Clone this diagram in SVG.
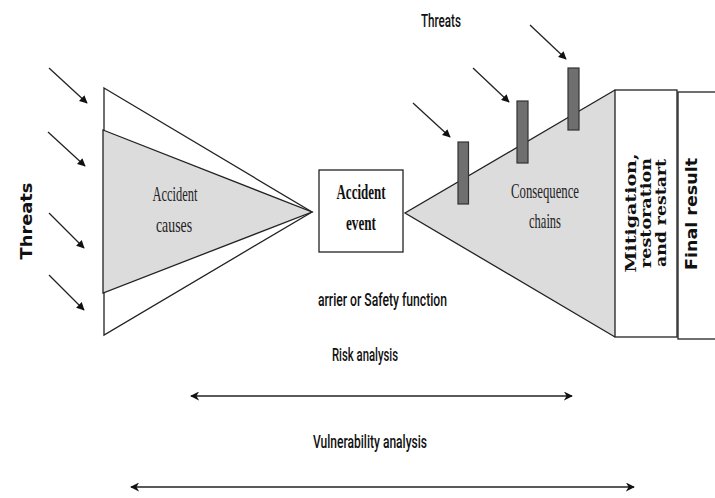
<svg xmlns="http://www.w3.org/2000/svg" width="715" height="498" viewBox="0 0 715 498">
<defs>
<style>
.ln{stroke:#222;stroke-width:1.3;fill:none}
.shape{stroke:#222;stroke-width:1.3}
.gray{fill:#dcdcdc}
.white{fill:#fff}
.bar{fill:#6f6f6f;stroke:#333;stroke-width:1.2}
.cond{font-family:Roboto,"Liberation Sans",sans-serif;font-size:18px;font-weight:500;fill:#111}
.ser{font-family:"Liberation Serif","DejaVu Serif",serif;font-size:21px;fill:#222;text-anchor:middle}
.serb{font-family:"Liberation Serif","DejaVu Serif",serif;font-size:22px;font-weight:bold;fill:#111;text-anchor:middle}
.vb{font-family:"DejaVu Serif",serif;font-size:14px;font-weight:bold;fill:#111;text-anchor:middle}
.vs{font-family:"DejaVu Sans",sans-serif;font-size:15px;font-weight:bold;fill:#111;text-anchor:middle}
</style>
<marker id="ah" viewBox="0 0 10 10" refX="9" refY="5" markerWidth="8" markerHeight="8" markerUnits="userSpaceOnUse" orient="auto">
<path d="M0,0 L10,5 L0,10 z" fill="#111"/>
</marker>
<marker id="dh" viewBox="0 0 10 10" refX="9" refY="5" markerWidth="9" markerHeight="9" markerUnits="userSpaceOnUse" orient="auto-start-reverse">
<path d="M0,0 L10,5 L0,10 L3,5 z" fill="#111"/>
</marker>
</defs>
<rect width="715" height="498" fill="#fff"/>

<g id="accident-causes">
<polygon class="shape white" points="104,88 312,212 104,335"/>
<polygon class="shape gray" points="103,130 312,212 103,293"/>
<text class="ser" x="175" y="201" textLength="45" lengthAdjust="spacingAndGlyphs">Accident</text>
<text class="ser" x="174" y="232" textLength="36" lengthAdjust="spacingAndGlyphs">causes</text>
</g>

<g id="accident-event">
<rect class="shape white" x="319" y="170" width="84" height="82"/>
<text class="serb" x="361" y="199" textLength="49" lengthAdjust="spacingAndGlyphs">Accident</text>
<text class="serb" x="361" y="230" textLength="30" lengthAdjust="spacingAndGlyphs">event</text>
</g>

<g id="consequence-chains">
<polygon class="gray" points="405,213 615,90 615,337"/>
<polyline class="ln" points="615,90 405,213 615,337"/>
<text class="ser" x="545" y="198" textLength="68" lengthAdjust="spacingAndGlyphs">Consequence</text>
<text class="ser" x="545" y="228" textLength="32" lengthAdjust="spacingAndGlyphs">chains</text>
</g>

<g id="barriers">
<rect class="bar" x="458" y="142" width="10.5" height="62"/>
<rect class="bar" x="517" y="101" width="11" height="62"/>
<rect class="bar" x="568" y="68" width="11" height="62"/>
</g>

<g id="mitigation">
<rect class="shape white" x="615" y="90" width="62" height="247"/>
<g transform="translate(651,213) rotate(-90)">
<text class="vb" x="0" y="-15" textLength="119" lengthAdjust="spacingAndGlyphs">Mitigation,</text>
<text class="vb" x="0" y="0" textLength="110" lengthAdjust="spacingAndGlyphs">restoration</text>
<text class="vb" x="0" y="15" textLength="108" lengthAdjust="spacingAndGlyphs">and restart</text>
</g>
</g>

<g id="final-result">
<rect class="shape white" x="678" y="92" width="40" height="247"/>
<text class="vs" transform="translate(697,214) rotate(-90)" x="0" y="0" textLength="112" lengthAdjust="spacingAndGlyphs">Final result</text>
</g>

<g id="connectors">
<line class="ln" x1="49" y1="68" x2="87" y2="103" marker-end="url(#ah)"/>
<line class="ln" x1="48" y1="132" x2="85" y2="166" marker-end="url(#ah)"/>
<line class="ln" x1="49" y1="213" x2="84" y2="248" marker-end="url(#ah)"/>
<line class="ln" x1="49" y1="275" x2="84" y2="310" marker-end="url(#ah)"/>
<line class="ln" x1="413" y1="103" x2="450" y2="137" marker-end="url(#ah)"/>
<line class="ln" x1="473" y1="68" x2="509" y2="102" marker-end="url(#ah)"/>
<line class="ln" x1="530" y1="25" x2="566" y2="59" marker-end="url(#ah)"/>
<line class="ln" x1="191" y1="396" x2="572" y2="396" marker-start="url(#dh)" marker-end="url(#dh)"/>
<line class="ln" x1="131" y1="487" x2="634" y2="487" marker-start="url(#dh)" marker-end="url(#dh)"/>
</g>

<g id="labels">
<text class="vs" transform="translate(32,221) rotate(-90)" x="0" y="0" font-size="16" textLength="77" lengthAdjust="spacingAndGlyphs">Threats</text>
<text class="cond" x="421" y="27" textLength="40" lengthAdjust="spacingAndGlyphs">Threats</text>
<text class="cond" x="318" y="306" textLength="129" lengthAdjust="spacingAndGlyphs">arrier or Safety function</text>
<text class="cond" x="332" y="361" textLength="66" lengthAdjust="spacingAndGlyphs">Risk analysis</text>
<text class="cond" x="313" y="448" textLength="114" lengthAdjust="spacingAndGlyphs">Vulnerability analysis</text>
</g>
</svg>
